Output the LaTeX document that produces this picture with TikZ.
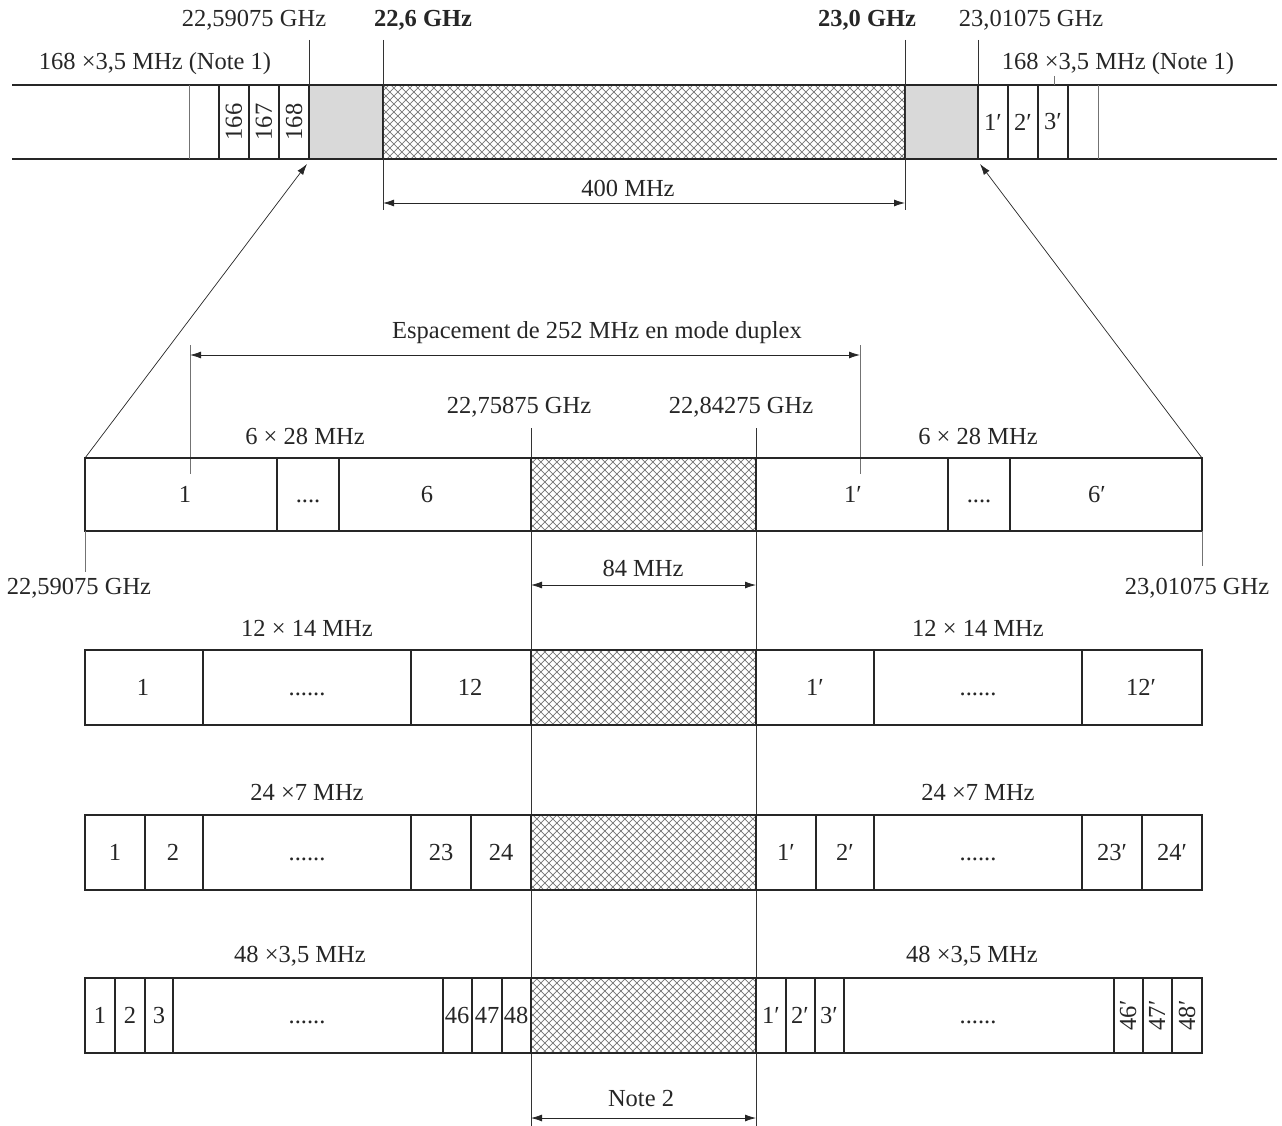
\documentclass[tikz,border=0pt]{standalone}
\usepackage{fontspec}
\setmainfont{Liberation Serif}
\usetikzlibrary{patterns.meta,arrows.meta}
\tikzdeclarepattern{
  name=xhatch, type=uncolored,
  bounding box={(0pt,0pt) and (8.4pt,8.4pt)},
  tile size={(8.4pt,8.4pt)},
  code={\draw[line width=0.75pt] (0pt,0pt) -- (8.4pt,8.4pt) (0pt,8.4pt) -- (8.4pt,0pt);}
}
\tikzset{
  bandline/.style={draw=black!85, line width=1.3pt},
  guide/.style={draw=black!80, line width=0.7pt},
  faint/.style={draw=black!55, line width=0.7pt},
  hatchbox/.style={bandline, pattern=xhatch, pattern color=black!55},
  graybox/.style={bandline, fill=black!15},
  lbl/.style={font=\fontsize{24.5}{28}\selectfont, inner sep=0pt, text=black!85},
  dimarrow/.style={{Latex[length=11pt,width=7pt]}-{Latex[length=11pt,width=7pt]}, line width=0.8pt, draw=black!85},
  ptr/.style={-{Latex[length=11pt,width=7pt]}, line width=0.7pt, draw=black!85},
}
\newcommand{\dotsfill}[1]{\vphantom{1}#1}
\begin{document}
\begin{tikzpicture}[x=1pt,y=-1pt]
\useasboundingbox (0,0) rectangle (1282,1126);

% ---------------- top band ----------------
\coordinate (tL1) at (12,85);  \coordinate (tR1) at (1277,85);
\coordinate (tL2) at (12,159); \coordinate (tR2) at (1277,159);
\draw[bandline] (tL1) -- (tR1);
\draw[bandline] (tL2) -- (tR2);
\draw[graybox] (309,85) rectangle (383,159);
\draw[hatchbox] (383,85) rectangle (905,159);
\draw[graybox] (905,85) rectangle (978,159);
\draw[faint] (189,85) -- (189,159);
\draw[faint] (1098,85) -- (1098,159);
\foreach \x in {219,249,279,1008,1038,1068} \draw[bandline] (\x,85) -- (\x,159);
\node[lbl,rotate=90] (c166) at (234,122) {166};
\node[lbl,rotate=90] (c167) at (264,122) {167};
\node[lbl,rotate=90] (c168) at (294,122) {168};
\node[lbl] (c1p) at (993,122) {1′};
\node[lbl] (c2p) at (1023,122) {2′};
\node[lbl] (c3p) at (1053,122) {3′};

% guide lines to top labels
\coordinate (g1a) at (309,40); \coordinate (g1b) at (309,85);
\coordinate (g2a) at (383,40); \coordinate (g2b) at (383,210);
\coordinate (g3a) at (905,40); \coordinate (g3b) at (905,210);
\coordinate (g4a) at (978,40); \coordinate (g4b) at (978,85);
\draw[guide] (g1a) -- (g1b);
\draw[guide] (g2a) -- (g2b);
\draw[guide] (g3a) -- (g3b);
\draw[guide] (g4a) -- (g4b);

\node[lbl] (f1) at (254,20) {22,59075 GHz};
\node[lbl] (f2) at (423,20) {\bfseries 22,6 GHz};
\node[lbl] (f3) at (867,20) {\bfseries 23,0 GHz};
\node[lbl] (f4) at (1031,20) {23,01075 GHz};
\node[lbl] (n1l) at (155,64) {168 ×3,5 MHz (Note 1)};
\node[lbl] (n1r) at (1118,64) {168 ×3,5 MHz (Note 1)};
\coordinate (tk1) at (1054,76); \coordinate (tk2) at (1054,85);
\draw[faint] (tk1) -- (tk2);

% 400 MHz
\coordinate (a4l) at (383,203); \coordinate (a4r) at (905,203);
\draw[dimarrow] (a4l) -- (a4r);
\node[lbl] (l400) at (628,188) {400 MHz};

% zoom pointers
\coordinate (z1) at (85,458); \coordinate (z1t) at (307,164);
\coordinate (z2) at (1202,458); \coordinate (z2t) at (980,164);
\draw[ptr] (z1) -- (z1t);
\draw[ptr] (z2) -- (z2t);

% duplex spacing
\coordinate (d1a) at (190,345); \coordinate (d1b) at (190,474);
\coordinate (d2a) at (860,345); \coordinate (d2b) at (860,474);
\draw[faint] (d1a) -- (d1b);
\draw[faint] (d2a) -- (d2b);
\draw[dimarrow] (190,355) -- (860,355);
\node[lbl] (dup) at (597,333) {Espacement de 252 MHz en mode duplex};

% centre guide lines
\coordinate (ca) at (531,428); \coordinate (cb) at (531,1126);
\coordinate (cc) at (756,428); \coordinate (cd) at (756,1126);
\draw[guide] (ca) -- (cb);
\draw[guide] (cc) -- (cd);
\node[lbl] (f5) at (519,407) {22,75875 GHz};
\node[lbl] (f6) at (741,407) {22,84275 GHz};

% ---------------- band 1 : 6 x 28 ----------------
\def\ya{458}\def\yb{531}\def\ym{494.5}
\draw[bandline] (85,\ya) rectangle (531,\yb);
\draw[hatchbox] (531,\ya) rectangle (756,\yb);
\draw[bandline] (756,\ya) rectangle (1202,\yb);
\foreach \x in {277,339,948,1010} \draw[bandline] (\x,\ya) -- (\x,\yb);
\node[lbl] (b1a) at (185,\ym) {1};
\node[lbl] (b1b) at (308,\ym) {\dotsfill{....}};
\node[lbl] (b1c) at (427,\ym) {6};
\node[lbl] (b1d) at (853,\ym) {1′};
\node[lbl] (b1e) at (979,\ym) {\dotsfill{....}};
\node[lbl] (b1f) at (1097,\ym) {6′};
\node[lbl] (h1l) at (305,436) {6 × 28 MHz};
\node[lbl] (h1r) at (978,436) {6 × 28 MHz};
\coordinate (e1a) at (85,531); \coordinate (e1b) at (85,572);
\coordinate (e2a) at (1202,531); \coordinate (e2b) at (1202,566);
\draw[faint] (e1a) -- (e1b);
\draw[faint] (e2a) -- (e2b);
\node[lbl] (f7) at (79,588) {22,59075 GHz};
\node[lbl] (f8) at (1197,588) {23,01075 GHz};
\draw[dimarrow] (531,585) -- (756,585);
\node[lbl] (l84) at (643,568) {84 MHz};

% ---------------- band 2 : 12 x 14 ----------------
\def\ya{650}\def\yb{725}\def\ym{687.5}
\draw[bandline] (85,\ya) rectangle (531,\yb);
\draw[hatchbox] (531,\ya) rectangle (756,\yb);
\draw[bandline] (756,\ya) rectangle (1202,\yb);
\foreach \x in {203,411,874,1082} \draw[bandline] (\x,\ya) -- (\x,\yb);
\node[lbl] (b2a) at (143,\ym) {1};
\node[lbl] (b2b) at (307,\ym) {\dotsfill{......}};
\node[lbl] (b2c) at (470,\ym) {12};
\node[lbl] (b2d) at (815,\ym) {1′};
\node[lbl] (b2e) at (978,\ym) {\dotsfill{......}};
\node[lbl] (b2f) at (1141,\ym) {12′};
\node[lbl] (h2l) at (307,628) {12 × 14 MHz};
\node[lbl] (h2r) at (978,628) {12 × 14 MHz};

% ---------------- band 3 : 24 x 7 ----------------
\def\ya{815}\def\yb{890}\def\ym{852.5}
\draw[bandline] (85,\ya) rectangle (531,\yb);
\draw[hatchbox] (531,\ya) rectangle (756,\yb);
\draw[bandline] (756,\ya) rectangle (1202,\yb);
\foreach \x in {145,203,411,471,816,874,1082,1142} \draw[bandline] (\x,\ya) -- (\x,\yb);
\node[lbl] (b3a) at (115,\ym) {1};
\node[lbl] (b3b) at (173,\ym) {2};
\node[lbl] (b3c) at (307,\ym) {\dotsfill{......}};
\node[lbl] (b3d) at (441,\ym) {23};
\node[lbl] (b3e) at (501,\ym) {24};
\node[lbl] (b3f) at (786,\ym) {1′};
\node[lbl] (b3g) at (845,\ym) {2′};
\node[lbl] (b3h) at (978,\ym) {\dotsfill{......}};
\node[lbl] (b3i) at (1112,\ym) {23′};
\node[lbl] (b3j) at (1172,\ym) {24′};
\node[lbl] (h3l) at (307,792) {24 ×7 MHz};
\node[lbl] (h3r) at (978,792) {24 ×7 MHz};

% ---------------- band 4 : 48 x 3,5 ----------------
\def\ya{978}\def\yb{1053}\def\ym{1015.5}
\draw[bandline] (85,\ya) rectangle (531,\yb);
\draw[hatchbox] (531,\ya) rectangle (756,\yb);
\draw[bandline] (756,\ya) rectangle (1202,\yb);
\foreach \x in {115,145,173,443,472,502,786,815,844,1114,1143,1172} \draw[bandline] (\x,\ya) -- (\x,\yb);
\node[lbl] (b4a) at (100,\ym) {1};
\node[lbl] (b4b) at (130,\ym) {2};
\node[lbl] (b4c) at (159,\ym) {3};
\node[lbl] (b4d) at (307,\ym) {\dotsfill{......}};
\node[lbl] (b4e) at (457,\ym) {46};
\node[lbl] (b4f) at (487,\ym) {47};
\node[lbl] (b4g) at (516,\ym) {48};
\node[lbl] (b4h) at (771,\ym) {1′};
\node[lbl] (b4i) at (800,\ym) {2′};
\node[lbl] (b4j) at (829,\ym) {3′};
\node[lbl] (b4k) at (978,\ym) {\dotsfill{......}};
\node[lbl,rotate=90] (b4l) at (1128,\ym) {46′};
\node[lbl,rotate=90] (b4m) at (1157,\ym) {47′};
\node[lbl,rotate=90] (b4n) at (1187,\ym) {48′};
\node[lbl] (h4l) at (300,956) {48 ×3,5 MHz};
\node[lbl] (h4r) at (972,956) {48 ×3,5 MHz};

% Note 2
\draw[dimarrow] (531,1118) -- (756,1118);
\node[lbl] (nt2) at (641,1098) {Note 2};
\end{tikzpicture}
\end{document}
